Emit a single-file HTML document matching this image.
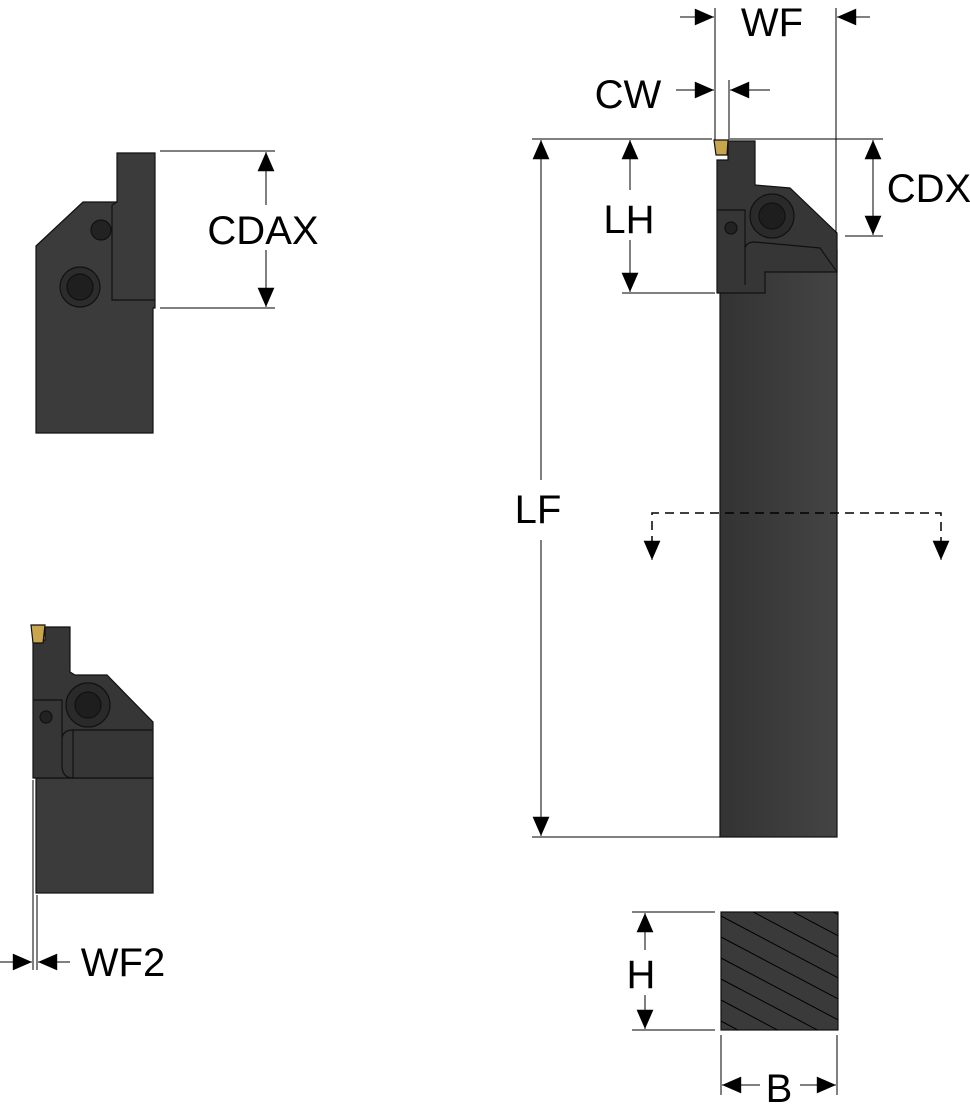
<!DOCTYPE html>
<html><head><meta charset="utf-8"><style>html,body{margin:0;padding:0;background:#fff}svg{display:block}text{font-family:"Liberation Sans",sans-serif;fill:#000}</style></head><body>
<svg width="970" height="1113" viewBox="0 0 970 1113" xmlns="http://www.w3.org/2000/svg">
<defs>
<marker id="b" viewBox="0 0 10 10" refX="10" refY="5" markerWidth="24" markerHeight="24" markerUnits="userSpaceOnUse" orient="auto"><path d="M2,1.5L10,5L2,8.5z" fill="#000"/></marker>
<linearGradient id="g" x1="0" x2="1"><stop offset="0" stop-color="#333"/><stop offset="1" stop-color="#444"/></linearGradient>
<clipPath id="sq"><rect x="721" y="912" width="117" height="118"/></clipPath>
</defs>
<g stroke="#111" stroke-width="1.2">
<path d="M36,246 L83,202 L117,202 L117,153 L155,153 L155,308 L153,308 L153,433 L36,433 Z" fill="#3b3b3b"/>
<path d="M112,205 L112,300 L155,300" fill="none"/>
<path d="M117,202 L112,205" fill="none"/>
<circle cx="101" cy="230" r="10" fill="#222"/>
<circle cx="80" cy="287" r="20" fill="#2c2c2c"/><circle cx="80" cy="287" r="13" fill="#1f1f1f"/>
<rect x="36" y="778" width="117" height="115" fill="#3b3b3b"/>
<path d="M33,640 L45,640 L45,627 L70,627 L70,672 L75,675 L107,675 L153,722 L153,778 L73,778 L33,778 Z" fill="#363636"/>
<path d="M31,625 L45,625 L43,643 L33,643 Z" fill="#c9a54c"/>
<circle cx="88" cy="705" r="22" fill="#2a2a2a"/><circle cx="88" cy="705" r="13" fill="#1e1e1e"/>
<circle cx="46" cy="717" r="6" fill="#222"/>
<path d="M33,700 L62,700 L62,740 Q62,730 73,730 L153,730 M73,730 L73,778 M62,740 L62,765 Q62,778 73,778" fill="none"/>
<rect x="720" y="250" width="117" height="587" fill="url(#g)"/>
<path d="M717,160 L728,160 L728,141 L755,141 L755,185 L790,188 L837,233 L837,272 L765,272 L765,293 L717,293 Z" fill="#363636"/>
<path d="M714,140 L728,140 L727,155 L716,155 Z" fill="#c9a54c"/>
<circle cx="772" cy="216" r="22" fill="#2a2a2a"/><circle cx="772" cy="216" r="13" fill="#1e1e1e"/>
<circle cx="731" cy="228" r="6" fill="#222"/>
<path d="M717,210 L745,210 L745,250 Q745,242 755,242 L820,248 L837,272 M745,250 L745,285" fill="none"/>
<rect x="721" y="912" width="117" height="118" fill="#3a3a3a"/>
</g>
<g stroke="#000" stroke-width="1" clip-path="url(#sq)">
<path d="M721,1021 L760,1042 M721,1000 L800,1042 M721,979 L840,1042 M721,958 L880,1042 M721,937 L880,1021 M721,916 L880,1000 M740,905 L880,979 M780,905 L880,958 M820,905 L880,937"/>
</g>
<g stroke="#000" stroke-width="1" fill="none">
<line x1="160" y1="151" x2="275" y2="151"/><line x1="160" y1="308" x2="275" y2="308"/>
<line x1="266" y1="205" x2="266" y2="152" marker-end="url(#b)"/><line x1="266" y1="250" x2="266" y2="307" marker-end="url(#b)"/>
<line x1="33" y1="780" x2="33" y2="970"/><line x1="37" y1="895" x2="37" y2="970"/>
<line x1="0" y1="962" x2="32" y2="962" marker-end="url(#b)"/><line x1="70" y1="962" x2="38" y2="962" marker-end="url(#b)"/>
<line x1="532" y1="139" x2="712" y2="139"/><line x1="730" y1="139" x2="883" y2="139"/>
<line x1="715" y1="8" x2="715" y2="140"/><line x1="836" y1="8" x2="836" y2="233"/>
<line x1="680" y1="17" x2="714" y2="17" marker-end="url(#b)"/><line x1="870" y1="17" x2="837" y2="17" marker-end="url(#b)"/>
<line x1="729" y1="80" x2="729" y2="140"/>
<line x1="676" y1="90" x2="714" y2="90" marker-end="url(#b)"/><line x1="770" y1="90" x2="730" y2="90" marker-end="url(#b)"/>
<line x1="630" y1="190" x2="630" y2="140" marker-end="url(#b)"/><line x1="630" y1="240" x2="630" y2="292" marker-end="url(#b)"/>
<line x1="622" y1="293" x2="715" y2="293"/>
<line x1="873" y1="160" x2="873" y2="140" marker-end="url(#b)"/><line x1="873" y1="160" x2="873" y2="235" marker-end="url(#b)"/>
<line x1="845" y1="236" x2="883" y2="236"/>
<line x1="541" y1="480" x2="541" y2="140" marker-end="url(#b)"/><line x1="541" y1="540" x2="541" y2="836" marker-end="url(#b)"/>
<line x1="532" y1="837" x2="720" y2="837"/>
<path d="M652,545 L652,513 L941,513 L941,545" stroke-width="1.5" stroke-dasharray="9,6"/>
<line x1="652" y1="540" x2="652" y2="560" marker-end="url(#b)"/><line x1="941" y1="540" x2="941" y2="560" marker-end="url(#b)"/>
<line x1="632" y1="912" x2="715" y2="912"/><line x1="632" y1="1030" x2="715" y2="1030"/>
<line x1="645" y1="950" x2="645" y2="913" marker-end="url(#b)"/><line x1="645" y1="995" x2="645" y2="1029" marker-end="url(#b)"/>
<line x1="721" y1="1035" x2="721" y2="1095"/><line x1="837" y1="1035" x2="837" y2="1095"/>
<line x1="760" y1="1085" x2="722" y2="1085" marker-end="url(#b)"/><line x1="800" y1="1085" x2="836" y2="1085" marker-end="url(#b)"/>
</g>
<g font-size="40" text-anchor="middle">
<text x="263" y="244">CDAX</text>
<text x="123" y="976">WF2</text>
<text x="772" y="36">WF</text>
<text x="628" y="108">CW</text>
<text x="629" y="233">LH</text>
<text x="929" y="202">CDX</text>
<text x="538" y="523">LF</text>
<text x="641" y="988">H</text>
<text x="779" y="1102">B</text>
</g>
</svg>
</body></html>
